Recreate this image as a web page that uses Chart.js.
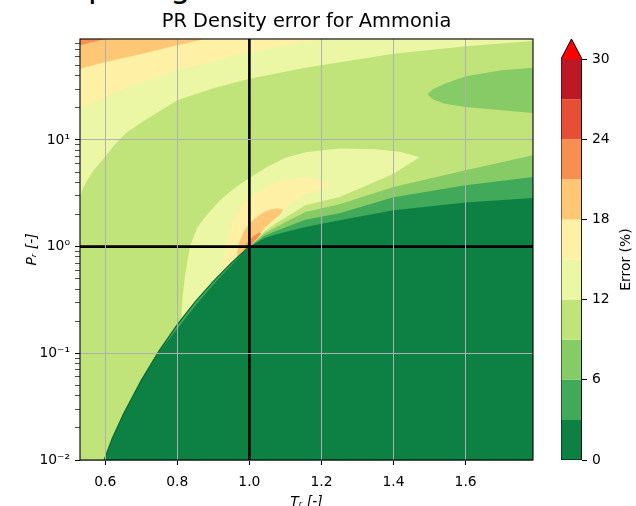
<!DOCTYPE html>
<html>
<head>
<meta charset="utf-8">
<script src="https://cdn.jsdelivr.net/npm/chart.js@4.4.1/dist/chart.umd.min.js"></script>
<style>
html, body { margin: 0; padding: 0; background: #fff; overflow: hidden; }
body { width: 636px; height: 506px; position: relative; font-family: 'DejaVu Sans', sans-serif; }
#sup { position: absolute; left: 15px; top: -30px; font-family: 'DejaVu Sans'; font-size: 32px; line-height: 32px; white-space: nowrap; color: #000; }
#main { position: absolute; left: 0; top: 0; }
#cbar { position: absolute; left: 540px; top: 0; }
</style>
</head>
<body>
<div id="sup">Comparing</div>
<canvas id="main" width="540" height="520"></canvas>
<canvas id="cbar" width="96" height="520"></canvas>
<script>
// axis ranges (Tr, Pr) and ticks
const trRange = [0.530, 1.787]
const prRange = [0.01, 88.4]
const xTicks = [0.6, 0.8, 1.0, 1.2, 1.4, 1.6]
const yDecades = [0.01, 0.1, 1, 10]
const yDecadeLabels = ['10⁻²', '10⁻¹', '10⁰', '10¹']
const criticalTr = 1.0
const criticalPr = 1.0

// contour levels (%) and colours (RdYlGn_r, 10 bins + over)
const levels = [0, 3, 6, 9, 12, 15, 18, 21, 24, 27, 30]
const bandColors = ['#0d8044', '#40aa5a', '#86cb66', '#c0e47a', '#ecf7a5', '#fef0a5', '#fec776', '#f98e52', '#e64f35', '#be1826']
const overColor = '#ff0000'
const cbarTip = 31.5

// contour lines, [Tr, Pr]
const satCurve = [[0.597,0.0100],[0.62,0.0161],[0.65,0.0267],[0.70,0.0558],[0.75,0.106],[0.80,0.186],[0.85,0.305],[0.90,0.473],[0.95,0.702],[0.98,0.872],[1.00,1.00]]
const stripeCurve = [[0.597,0.0100],[0.62,0.0161],[0.65,0.0267],[0.70,0.0558],[0.752,0.106],[0.809,0.186],[0.859,0.305],[0.908,0.473],[0.956,0.702],[0.983,0.872],[1.00,1.00]]
const c3Curve = [[1.00,1.00],[1.04,1.19],[1.07,1.29],[1.155,1.53],[1.25,1.77],[1.40,2.19],[1.60,2.59],[1.787,2.86]]
const c6Curve = [[1.00,1.00],[1.04,1.25],[1.07,1.39],[1.155,1.79],[1.25,2.06],[1.40,2.90],[1.60,3.76],[1.787,4.50]]
const c9Curve = [[1.00,1.00],[1.04,1.31],[1.07,1.50],[1.155,2.11],[1.25,2.50],[1.40,3.63],[1.60,5.20],[1.787,7.19]]
const tongue6 = [[1.787,47.6],[1.70,45.0],[1.60,39.5],[1.542,33.7],[1.51,30.0],[1.494,26.8],[1.51,24.0],[1.542,21.9],[1.60,20.4],[1.70,19.0],[1.787,17.9]]
const c12Upper = [[0.530,2.9],[0.538,3.5],[0.550,4.2],[0.570,5.3],[0.60,7.0],[0.63,9.3],[0.66,11.8],[0.71,15.3],[0.80,23.6],[0.90,30.5],[1.00,37.5],[1.155,47.6],[1.40,64.4],[1.60,75.5],[1.787,84.7]]
const c15Upper = [[0.530,19.6],[0.60,25.5],[0.664,31.4],[0.80,45.0],[1.00,66.8],[1.10,77.0],[1.21,88.4]]
const c18Upper = [[0.530,46.6],[0.60,53.8],[0.70,64.0],[0.80,77.2],[0.876,88.4]]
const c21Upper = [[0.530,77.0],[0.560,82.0],[0.600,88.4]]
const lobe12 = [[0.811,0.209],[0.815,0.35],[0.822,0.55],[0.835,1.0],[0.855,1.5],[0.885,2.04],[0.92,2.75],[0.959,3.55],[1.0,4.4],[1.05,5.6],[1.10,6.8],[1.16,7.7],[1.25,8.3],[1.35,8.2],[1.42,7.7],[1.473,6.9],[1.44,5.9],[1.40,4.83],[1.33,3.8],[1.25,2.92],[1.155,2.44],[1.07,1.62],[1.04,1.38],[1.00,1.00],[0.98,0.872],[0.95,0.702],[0.90,0.473],[0.85,0.305],[0.811,0.209]]
const lobe15 = [[0.932,0.612],[0.930,0.8],[0.935,1.0],[0.945,1.4],[0.959,1.9],[0.985,2.6],[1.015,3.14],[1.079,4.1],[1.155,4.45],[1.20,4.15],[1.224,3.76],[1.20,3.4],[1.155,3.14],[1.10,2.3],[1.07,1.78],[1.04,1.45],[1.00,1.00],[0.98,0.872],[0.95,0.702],[0.932,0.612]]
const lobe18 = [[0.965,0.783],[0.966,0.9],[0.972,1.1],[0.985,1.4],[1.0,1.65],[1.016,1.85],[1.04,2.1],[1.062,2.25],[1.085,2.28],[1.094,2.2],[1.085,2.0],[1.07,1.82],[1.043,1.5],[1.02,1.17],[1.00,1.00],[0.98,0.872],[0.965,0.783]]
const lobe21 = [[0.985,0.903],[0.987,1.0],[0.997,1.13],[1.012,1.26],[1.027,1.36],[1.033,1.33],[1.022,1.2],[1.01,1.08],[1.00,1.00],[0.985,0.903]]

Chart.defaults.font.family = "'DejaVu Sans', sans-serif"
Chart.defaults.color = '#000'

const L = trRange[0], R = trRange[1], B = prRange[0], T = prRange[1]

function toPts(list) {
    return list.map(function (p) { return {x: p[0], y: p[1]} })
}

const paint = []
function addRegion(poly, color) {
    paint.push({data: toPts(poly), showLine: true, fill: 'shape', backgroundColor: color, borderColor: color, borderWidth: 0, pointRadius: 0, tension: 0})
}
function addLine(line, color, width) {
    paint.push({data: toPts(line), showLine: true, fill: false, borderColor: color, borderWidth: width, pointRadius: 0, tension: 0})
}

// superlevel sets, painted from the lowest level up
addRegion([[L,T],[L,B],[R,B],[R,T]], bandColors[0])
addRegion([[L,T],[L,B]].concat(stripeCurve, c3Curve.slice(1), [[R,T]]), bandColors[1])
addRegion([[L,T],[L,B]].concat(satCurve, c6Curve.slice(1), [[R,T]]), bandColors[2])
addRegion([[L,T],[L,B]].concat(satCurve, c9Curve.slice(1), [[R,T]]), bandColors[3])
addRegion(tongue6, bandColors[2])
addRegion([[L,T]].concat(c12Upper, [[R,T]]), bandColors[4])
addRegion(lobe12, bandColors[4])
addRegion([[L,T]].concat(c15Upper), bandColors[5])
addRegion(lobe15, bandColors[5])
addRegion([[L,T]].concat(c18Upper), bandColors[6])
addRegion(lobe18, bandColors[6])
addRegion([[L,T]].concat(c21Upper), bandColors[7])
addRegion(lobe21, bandColors[7])
// lines on top
addLine(satCurve, '#0a6a35', 1.3)
addLine([[criticalTr,B],[criticalTr,T]], '#000', 2.6)
addLine([[L,criticalPr],[R,criticalPr]], '#000', 2.6)

// first pushed is drawn first (higher order = drawn earlier)
paint.forEach(function (d, i) { d.order = paint.length - i })

const yMinor = []
yDecades.forEach(function (d) {
    for (let m = 2; m <= 9; m++) {
        if (d * m <= T) yMinor.push(d * m)
    }
})

const frame = {
    id: 'frame',
    afterDraw(chart) {
        const a = chart.chartArea
        const ctx = chart.ctx
        ctx.save()
        ctx.strokeStyle = '#000'
        ctx.lineWidth = 1.1
        ctx.strokeRect(a.left, a.top, a.right - a.left, a.bottom - a.top)
        ctx.restore()
    }
}

new Chart(document.getElementById('main'), {
    type: 'scatter',
    data: {datasets: paint},
    options: {
        responsive: false,
        animation: false,
        devicePixelRatio: 1,
        layout: {padding: {left: 0, right: 7, top: 0, bottom: 0}},
        plugins: {
            legend: {display: false},
            tooltip: {enabled: false},
            title: {
                display: true,
                fullSize: false,
                text: 'PR Density error for Ammonia',
                color: '#000',
                font: {size: 19.4, weight: 'normal'},
                padding: {top: 10.7, bottom: 5}
            }
        },
        scales: {
            x: {
                type: 'linear',
                min: L,
                max: R,
                afterBuildTicks: function (axis) {
                    axis.ticks = xTicks.map(function (v) { return {value: v} })
                },
                afterFit: function (s) { s.height = 60 },
                ticks: {
                    autoSkip: false,
                    maxRotation: 0,
                    padding: 9,
                    font: {size: 13.9},
                    callback: function (v) { return v.toFixed(1) }
                },
                grid: {
                    z: 1,
                    color: function (c) { return c.tick && c.tick.value === criticalTr ? 'rgba(0,0,0,0)' : '#b0b0b0' },
                    lineWidth: 1,
                    tickColor: '#000',
                    tickLength: 5
                },
                border: {display: false},
                title: {
                    display: true,
                    text: 'Tᵣ [-]',
                    font: {size: 13.9, style: 'italic'},
                    padding: {top: 0, bottom: 9}
                }
            },
            y: {
                type: 'logarithmic',
                min: B,
                max: T,
                afterBuildTicks: function (axis) {
                    axis.ticks = yDecades.concat(yMinor).sort(function (a, b) { return a - b }).map(function (v) { return {value: v} })
                },
                afterFit: function (s) { s.width = 80 },
                ticks: {
                    autoSkip: false,
                    padding: 5,
                    font: {size: 13.9},
                    callback: function (v) {
                        const i = yDecades.indexOf(v)
                        return i >= 0 ? yDecadeLabels[i] : ''
                    }
                },
                grid: {
                    z: 1,
                    color: function (c) {
                        if (!c.tick) return 'rgba(0,0,0,0)'
                        const v = c.tick.value
                        return (yDecades.indexOf(v) >= 0 && v !== criticalPr) ? '#b0b0b0' : 'rgba(0,0,0,0)'
                    },
                    lineWidth: 1,
                    tickColor: '#000',
                    tickWidth: function (c) { return c.tick && yDecades.indexOf(c.tick.value) >= 0 ? 1 : 0.7 },
                    tickLength: 5
                },
                border: {display: false},
                title: {
                    display: true,
                    text: 'Pᵣ [-]',
                    font: {size: 13.9, style: 'italic'},
                    padding: {top: 24, bottom: 0}
                }
            }
        }
    },
    plugins: [frame]
})

/* colorbar */
const cbarSets = []
for (let i = 0; i < bandColors.length; i++) {
    const lo = levels[i], hi = levels[i + 1]
    cbarSets.push({data: toPts([[0,lo],[0,hi],[1,hi],[1,lo]]), showLine: true, fill: 'shape', backgroundColor: bandColors[i], borderColor: bandColors[i], borderWidth: 0, pointRadius: 0})
}
const cbarTop = levels[levels.length - 1]
cbarSets.push({data: toPts([[0,cbarTop],[0.5,cbarTip],[1,cbarTop]]), showLine: true, fill: 'shape', backgroundColor: overColor, borderColor: overColor, borderWidth: 0, pointRadius: 0})
cbarSets.push({data: toPts([[0,0],[0,cbarTop],[0.5,cbarTip],[1,cbarTop],[1,0],[0,0]]), showLine: true, fill: false, borderColor: '#000', borderWidth: 1, pointRadius: 0})
cbarSets.forEach(function (d, i) { d.order = cbarSets.length - i })

const cbarLabel = {
    id: 'cbarLabel',
    afterDraw(chart) {
        const ctx = chart.ctx
        const ys = chart.scales.y
        ctx.save()
        ctx.translate(chart.width - 10, (ys.getPixelForValue(0) + ys.getPixelForValue(cbarTop)) / 2)
        ctx.rotate(-Math.PI / 2)
        ctx.font = "13.9px 'DejaVu Sans'"
        ctx.fillStyle = '#000'
        ctx.textAlign = 'center'
        ctx.textBaseline = 'middle'
        ctx.fillText('Error (%)', 0, 0)
        ctx.restore()
    }
}

new Chart(document.getElementById('cbar'), {
    type: 'scatter',
    data: {datasets: cbarSets},
    options: {
        responsive: false,
        animation: false,
        devicePixelRatio: 1,
        layout: {padding: {left: 21, right: 0, top: 39, bottom: 60}},
        plugins: {legend: {display: false}, tooltip: {enabled: false}},
        scales: {
            x: {type: 'linear', min: 0, max: 1, display: false},
            y: {
                type: 'linear',
                position: 'right',
                min: 0,
                max: cbarTip,
                afterBuildTicks: function (axis) {
                    axis.ticks = [0, 6, 12, 18, 24, 30].map(function (v) { return {value: v} })
                },
                afterFit: function (s) { s.width = 54 },
                ticks: {padding: 5, font: {size: 13.9}, autoSkip: false},
                grid: {display: true, drawOnChartArea: false, tickColor: '#000', tickLength: 5},
                border: {display: false}
            }
        }
    },
    plugins: [cbarLabel]
})
</script>
</body>
</html>
